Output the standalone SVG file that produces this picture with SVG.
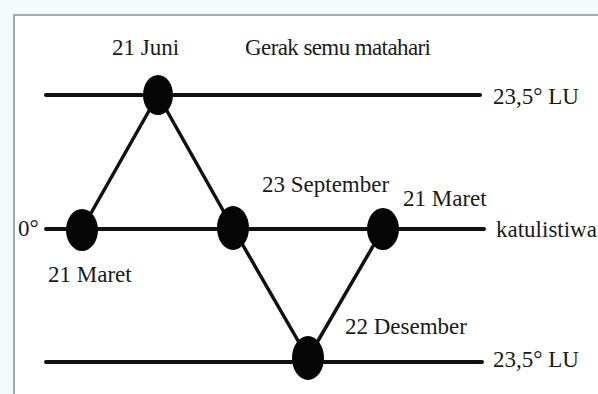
<svg xmlns="http://www.w3.org/2000/svg" width="598" height="394" viewBox="0 0 598 394">
<style>
.t{font-family:"Liberation Serif","Times New Roman",serif;font-size:23px;fill:#1a1a1a}
.ln{stroke:#111;stroke-width:4;stroke-linecap:round;fill:none}
.cn{stroke:#111;stroke-width:3.5;stroke-linecap:round;fill:none}
.dot{fill:#050505}
</style>
<rect x="0" y="0" width="598" height="394" fill="#f5fafa"/>
<rect x="14" y="15" width="584" height="379" fill="#ffffff"/>
<path d="M14 394 V15 H598" stroke="#a3abab" stroke-width="2" fill="none"/>
<g id="lines">
<line class="ln" x1="46" y1="95" x2="480" y2="95"/>
<line class="ln" x1="46" y1="229" x2="484" y2="229"/>
<line class="ln" x1="46" y1="362" x2="482" y2="362"/>
</g>
<g id="connectors">
<line class="cn" x1="82" y1="229" x2="158" y2="95"/>
<line class="cn" x1="158" y1="95" x2="233" y2="228"/>
<line class="cn" x1="233" y1="228" x2="308" y2="358"/>
<line class="cn" x1="308" y1="358" x2="383" y2="229"/>
</g>
<g id="n-21juni"><ellipse class="dot" cx="158" cy="95" rx="15" ry="20"/><text class="t" x="112" y="55">21 Juni</text></g>
<g id="n-21maret-left"><ellipse class="dot" cx="82" cy="230" rx="16" ry="21"/><text class="t" x="48" y="282">21 Maret</text></g>
<g id="n-23sept"><ellipse class="dot" cx="233" cy="228" rx="16" ry="22"/><text class="t" x="262" y="192">23 September</text></g>
<g id="n-21maret-right"><ellipse class="dot" cx="383" cy="229" rx="16" ry="21"/><text class="t" x="403" y="206">21 Maret</text></g>
<g id="n-22des"><ellipse class="dot" cx="308" cy="358" rx="16" ry="22"/><text class="t" x="345" y="334">22 Desember</text></g>
<g id="labels">
<text class="t" x="245" y="55" textLength="186">Gerak semu matahari</text>
<text class="t" x="493" y="104">23,5° LU</text>
<text class="t" x="18" y="236">0°</text>
<text class="t" x="496" y="237">katulistiwa</text>
<text class="t" x="493" y="367">23,5° LU</text>
</g>
</svg>
